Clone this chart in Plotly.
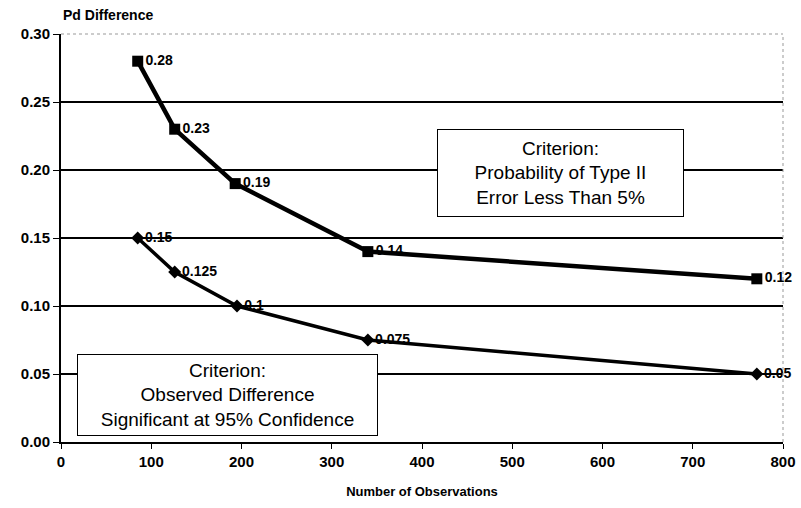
import plotly.graph_objects as go

# Data
obs_upper = [85, 126, 193, 340, 771]
pd_upper = [0.28, 0.23, 0.19, 0.14, 0.12]
lbl_upper = ["0.28", "0.23", "0.19", "0.14", "0.12"]

obs_lower = [85, 126, 195, 340, 771]
pd_lower = [0.15, 0.125, 0.10, 0.075, 0.05]
lbl_lower = ["0.15", "0.125", "0.1", "0.075", "0.05"]

x_ticks = [0, 100, 200, 300, 400, 500, 600, 700, 800]
y_ticks = [0.00, 0.05, 0.10, 0.15, 0.20, 0.25, 0.30]

bold_font = "Liberation Sans Narrow, Arial Narrow, Liberation Sans, Arial"
box_font = "Liberation Sans, Arial"

fig = go.Figure()
fig.add_trace(go.Scatter(
    x=obs_upper, y=pd_upper, mode="lines+markers+text",
    line=dict(color="black", width=4.5),
    marker=dict(symbol="square", size=11, color="black"),
    text=lbl_upper, textposition="middle right",
    textfont=dict(family=bold_font, size=14, color="black", weight="bold"),
    cliponaxis=False, showlegend=False,
))
fig.add_trace(go.Scatter(
    x=obs_lower, y=pd_lower, mode="lines+markers+text",
    line=dict(color="black", width=3.5),
    marker=dict(symbol="diamond", size=10, color="black"),
    text=lbl_lower, textposition="middle right",
    textfont=dict(family=bold_font, size=14, color="black", weight="bold"),
    cliponaxis=False, showlegend=False,
))

fig.update_layout(
    width=801, height=508,
    margin=dict(l=61, r=18, t=34, b=66),
    paper_bgcolor="white", plot_bgcolor="white",
    font=dict(family=bold_font, size=14, color="black"),
    xaxis=dict(
        range=[0, 800], tickvals=x_ticks, ticktext=[str(v) for v in x_ticks],
        automargin=False,
        showgrid=False, zeroline=False,
        showline=True, linecolor="black", linewidth=2,
        ticks="outside", ticklen=5, tickcolor="black",
        tickfont=dict(family=bold_font, size=15, color="black", weight="bold"),
        title=dict(text="<b>Number of Observations</b>",
                   font=dict(family=bold_font, size=13, color="black"), standoff=18),
    ),
    yaxis=dict(
        range=[0, 0.30], tickvals=y_ticks, ticktext=[f"{v:.2f}" for v in y_ticks],
        automargin=False,
        showgrid=True, gridcolor="black", gridwidth=2, zeroline=False,
        showline=True, linecolor="black", linewidth=2,
        ticks="outside", ticklen=6, tickcolor="black",
        tickfont=dict(family=bold_font, size=15, color="black", weight="bold"),
    ),
    shapes=[
        dict(type="line", xref="paper", yref="paper", x0=1, x1=1, y0=0, y1=1,
             line=dict(color="#999999", width=1, dash="dot")),
        dict(type="line", xref="paper", yref="paper", x0=0, x1=1, y0=1, y1=1,
             line=dict(color="#999999", width=1, dash="dot")),
    ],
    annotations=[
        dict(text="<b>Pd Difference</b>", xref="paper", yref="paper",
             x=0, y=1, xanchor="left", yanchor="bottom", yshift=9, showarrow=False,
             font=dict(family=bold_font, size=14, color="black")),
        dict(text="Criterion:<br>Probability of Type II<br>Error Less Than 5%",
             x=554, y=0.198, xref="x", yref="y", showarrow=False,
             font=dict(family=box_font, size=19, color="black"),
             bgcolor="white", bordercolor="black", borderwidth=1, borderpad=0,
             width=245, height=86, align="center", valign="middle"),
        dict(text="Criterion:<br>Observed Difference<br>Significant at 95% Confidence",
             x=184, y=0.0346, xref="x", yref="y", showarrow=False,
             font=dict(family=box_font, size=19, color="black"),
             bgcolor="white", bordercolor="black", borderwidth=1, borderpad=0,
             width=299, height=80, align="center", valign="middle"),
    ],
)

fig.write_html("out.html", config={"displayModeBar": False},
               post_script="document.body.style.margin='0';")
